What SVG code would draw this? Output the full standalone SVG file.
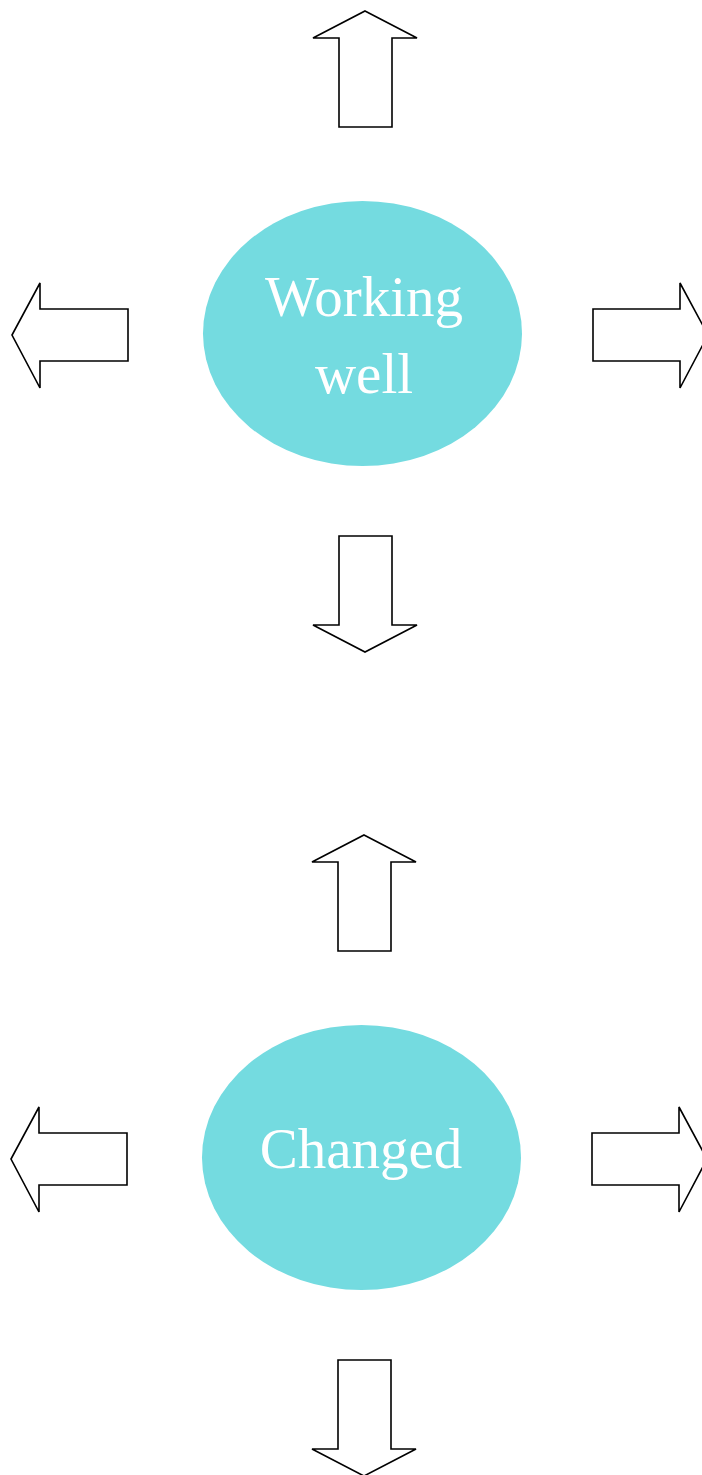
<svg xmlns="http://www.w3.org/2000/svg" width="702" height="1475" viewBox="0 0 702 1475">
<style>
.arrow{fill:#ffffff;stroke:#000000;stroke-width:1.6;stroke-linejoin:miter}
.node{fill:#74dbe0}
.label{fill:#ffffff;font-family:"Liberation Serif","DejaVu Serif",serif;font-size:57px;text-anchor:middle}
</style>
<defs>
<path id="up" d="M365,11 L417,38 L392,38 L392,127 L339,127 L339,38 L313,38 Z"/>
<path id="down" d="M339,536 L392,536 L392,625 L417,625 L365,652 L313,625 L339,625 Z"/>
<path id="left" d="M12,335 L40,283 L40,309 L128,309 L128,361 L40,361 L40,388 Z"/>
<path id="right" d="M593,309 L680,309 L680,283 L708,335 L680,388 L680,361 L593,361 Z"/>
</defs>
<g id="node-working-well">
<ellipse class="node" cx="362.5" cy="333.5" rx="159.5" ry="132.5"/>
<text class="label" x="364" y="316">Working</text>
<text class="label" x="364" y="393">well</text>
</g>
<g id="node-changed">
<ellipse class="node" cx="361.5" cy="1157.5" rx="159.5" ry="132.5"/>
<text class="label" x="361" y="1168">Changed</text>
</g>
<g id="connectors">
<use href="#up" class="arrow"/>
<use href="#down" class="arrow"/>
<use href="#left" class="arrow"/>
<use href="#right" class="arrow"/>
<g transform="translate(-1,824)">
<use href="#up" class="arrow"/>
<use href="#down" class="arrow"/>
<use href="#left" class="arrow"/>
<use href="#right" class="arrow"/>
</g>
</g>
</svg>
